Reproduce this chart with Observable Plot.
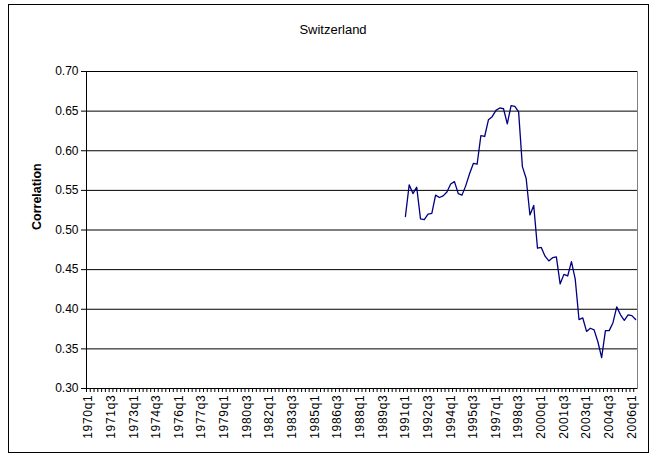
<!DOCTYPE html>
<html><head><meta charset="utf-8">
<script src="https://cdn.jsdelivr.net/npm/d3@7"></script>
<script src="https://cdn.jsdelivr.net/npm/@observablehq/plot@0.6"></script>
<style>
body{margin:0;background:#fff;font-family:"Liberation Sans",Arial,sans-serif;}
#wrap{position:relative;width:656px;height:457px;overflow:hidden;}
#wrap svg{position:absolute;left:0;top:0;}
#border{position:absolute;left:8px;top:4px;width:641px;height:449px;border:1px solid #000;box-sizing:border-box;pointer-events:none;}
#title{position:absolute;left:8px;width:650px;top:22px;text-align:center;font-size:13px;color:#000;}
.xlab text{letter-spacing:0.7px;}
</style></head>
<body>
<div id="wrap"><div id="title">Switzerland</div><div id="border"></div></div>
<script>
// Categories: quarters 1970q1 .. 2006q2
const firstYear = 1970;
const lastYear = 2006;
const lastQuarter = 2;
const quarters = [];
for (let y = firstYear; y <= lastYear; y++) {
  for (let q = 1; q <= 4; q++) {
    if (y === lastYear && q > lastQuarter) break;
    quarters.push(`${y}q${q}`);
  }
}
const labelQuarters = quarters.filter((d, i) => i % 6 === 0);

// Series (starts 1991q1)
const seriesStart = "1991q1";
const correlation = [
  0.517, 0.557, 0.546, 0.554, 0.514, 0.513, 0.520, 0.521,
  0.544, 0.541, 0.543, 0.548, 0.558, 0.561, 0.546, 0.544,
  0.556, 0.571, 0.584, 0.583, 0.619, 0.618, 0.639, 0.643,
  0.651, 0.654, 0.653, 0.634, 0.657, 0.656, 0.649, 0.580,
  0.565, 0.519, 0.531, 0.477, 0.478, 0.467, 0.461, 0.465,
  0.466, 0.432, 0.444, 0.442, 0.460, 0.438, 0.387, 0.389,
  0.372, 0.376, 0.374, 0.359, 0.339, 0.373, 0.373, 0.383,
  0.403, 0.393, 0.386, 0.393, 0.392, 0.387
];
const yTicks = [0.30, 0.35, 0.40, 0.45, 0.50, 0.55, 0.60, 0.65, 0.70];
const yLabel = "Correlation";

const startIdx = quarters.indexOf(seriesStart);
const data = correlation.map((v, i) => ({q: quarters[startIdx + i], v}));

const W = 656, H = 457, mL = 86, mR = 19, mT = 71, mB = 69;
const step = (W - mL - mR) / quarters.length;

const chart = Plot.plot({
  width: W, height: H,
  marginLeft: mL, marginRight: mR, marginTop: mT, marginBottom: mB,
  style: {fontFamily: "'Liberation Sans', Arial, sans-serif", fontSize: "12px", color: "#000", background: "transparent"},
  x: {type: "point", domain: quarters, padding: 0.5},
  y: {domain: [0.3, 0.7]},
  marks: [
    Plot.frame({anchor: "right", stroke: "#808080"}),
    Plot.ruleY(yTicks, {stroke: "#000", strokeWidth: 1}),
    Plot.frame({anchor: "left", stroke: "#000"}),
    Plot.axisY({ticks: yTicks, tickFormat: d3.format(".2f"), tickSize: 5, tickPadding: 3, label: null, stroke: "#000", fontSize: 12}),
    Plot.axisX({ticks: quarters, tickSize: 4, tickFormat: () => "", label: null, stroke: "#000", dx: -step / 2}),
    Plot.axisX({ticks: labelQuarters, tickSize: 0, tickPadding: 6, tickRotate: -90, label: null, fontSize: 12, className: "xlab"}),
    Plot.lineY(data, {x: "q", y: "v", stroke: "#000080", strokeWidth: 1.3}),
    Plot.text([yLabel], {frameAnchor: "left", dx: -50, rotate: -90, fontWeight: "bold", fontSize: 12.5, fill: "#000"})
  ]
});
document.getElementById("wrap").prepend(chart);
</script>
</body></html>
